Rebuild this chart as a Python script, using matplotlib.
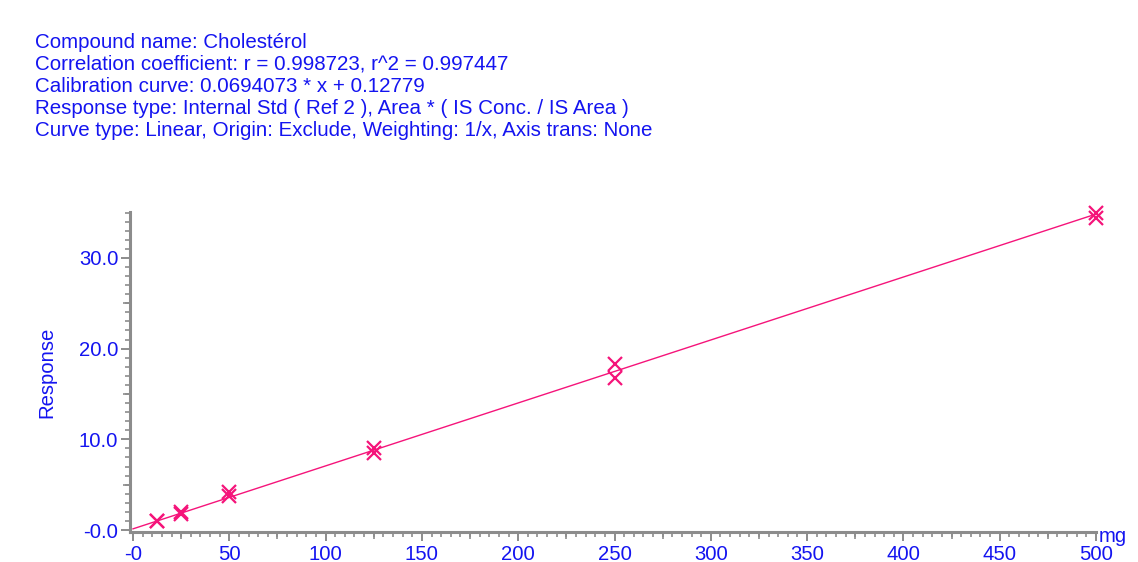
import numpy as np
import matplotlib.pyplot as plt
from matplotlib.ticker import MultipleLocator

plt.rcParams['font.family'] = ['Liberation Sans', 'DejaVu Sans']

# calibration data
conc = [12.5, 12.5, 25, 25, 50, 50, 125, 125, 250, 250, 500, 500]
response = [1.0, 0.95, 1.95, 1.8, 4.15, 3.7, 9.05, 8.5, 18.3, 16.75, 35.0, 34.35]

slope = 0.0694073
intercept = 0.12779

header = ["Compound name: Cholestérol",
          "Correlation coefficient: r = 0.998723, r^2 = 0.997447",
          "Calibration curve: 0.0694073 * x + 0.12779",
          "Response type: Internal Std ( Ref 2 ), Area * ( IS Conc. / IS Area )",
          "Curve type: Linear, Origin: Exclude, Weighting: 1/x, Axis trans: None"]

blue = '#1414F0'
pink = '#F5147A'
grey = '#8C8C8C'
fs = 14.6

fig = plt.figure(figsize=(11.38, 5.62), dpi=100)
pos = [130 / 1138, 1 - 532 / 562, (1096 - 130) / 1138, (532 - 212) / 562]
ax = fig.add_axes(pos)

xline = np.array([0, 500])
ax.plot(xline, slope * xline + intercept, color=pink, lw=1.0)
ax.plot(conc, response, 'x', color=pink, ms=9.5, mew=1.6, ls='none', clip_on=False)

ax.set_xlim(-1.56, 500)
ax.set_ylim(-0.22, 35.06)
for s in ['top', 'right']:
    ax.spines[s].set_visible(False)
for s in ['left', 'bottom']:
    ax.spines[s].set_color(grey)
    ax.spines[s].set_linewidth(2.2)

ax.set_xticks(np.arange(0, 501, 50))
ax.set_xticklabels(['-0'] + [str(v) for v in range(50, 501, 50)])
ax.set_yticks([0, 10, 20, 30])
ax.set_yticklabels(['-0.0', '10.0', '20.0', '30.0'])
ax.xaxis.set_minor_locator(MultipleLocator(5))
ax.yaxis.set_minor_locator(MultipleLocator(1))
ax.tick_params(which='major', length=6.5, width=1.4, color=grey,
               labelcolor=blue, labelsize=fs)
ax.tick_params(axis='x', which='major', pad=3)
ax.tick_params(axis='y', which='major', pad=2)
ax.tick_params(which='minor', length=3.5, width=1.2, color=grey)

# medium ticks at 25 / 5 intervals
ax2 = fig.add_axes(pos, frameon=False)
ax2.set_xlim(ax.get_xlim())
ax2.set_ylim(ax.get_ylim())
ax2.set_xticks(np.arange(25, 500, 50))
ax2.set_yticks([5, 15, 25])
ax2.tick_params(length=5, width=1.2, color=grey, labelbottom=False, labelleft=False)

ax.set_ylabel('Response', color=blue, fontsize=fs, labelpad=16)
fig.text(1099 / 1138, 1 - 537 / 562, 'mg', color=blue, fontsize=fs, va='center', ha='left')

for i, line in enumerate(header):
    fig.text(35 / 1138, 1 - (42 + 22 * i) / 562, line, color=blue,
             fontsize=14.8, va='center', ha='left')

fig.savefig('out.png', dpi=100)
